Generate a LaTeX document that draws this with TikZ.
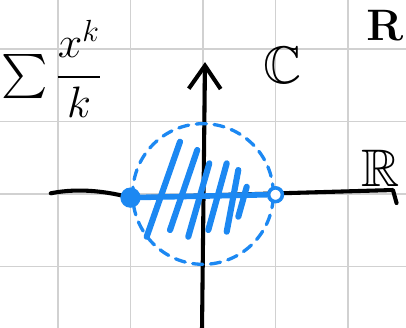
\documentclass[tikz,border=0pt]{standalone}
\usepackage{amsmath}
\usepackage{amssymb}
\usepackage{xcolor}
\usepackage{tikz}
\usetikzlibrary{arrows.meta, positioning, calc}
\definecolor{penblue}{RGB}{28,136,242}

\begin{document}
\begin{tikzpicture}[
    gridline/.style={draw=black!18, line width=0.7pt},
    axis/.style={draw=black, line width=1.6pt, line cap=round, line join=round},
    disc/.style={draw=penblue, line width=1.3pt, dash pattern=on 4pt off 3pt, line cap=round},
    hatch/.style={draw=penblue, line width=2.4pt, line cap=round},
    seg/.style={draw=penblue, line width=2.2pt},
    dotfill/.style={circle, fill=penblue, inner sep=0pt, minimum size=0.28cm},
    dotopen/.style={circle, draw=penblue, line width=1.4pt, fill=white, inner sep=0pt, minimum size=0.19cm},
    lbl/.style={inner sep=0pt, font=\Large},
]
    \useasboundingbox (-2.8,-1.848) rectangle (2.8,2.676);

    % grid paper
    \draw[gridline] (-2.8,-1.848) grid (2.8,2.676);

    % axes
    \coordinate (xl) at (-2.1,0.01);
    \coordinate (xm) at (-1,-0.05);
    \coordinate (xr) at (2.62,0.055);
    \coordinate (yb) at (-0.014,-1.9);
    \coordinate (yt) at (0.028,1.82);
    \draw[axis] (xl) .. controls (-1.7,0.09) and (-1.3,0.03) .. (xm) -- (xr) -- ++(0.05,-0.18);
    \draw[axis, -{Straight Barb[length=3.2mm, width=4.4mm]}] (yb) -- (yt);

    % unit disc
    \draw[disc] (0,0) circle (0.97);
    \foreach \xa/\ya/\xb/\yb in {-0.317/0.721/-0.777/-0.589, -0.079/0.607/-0.455/-0.497,
        0.087/0.423/-0.203/-0.589, 0.327/0.423/0.073/-0.497,
        0.487/0.331/0.327/-0.52, 0.603/0.1/0.487/-0.313}
        \draw[hatch] (\xa,\ya) -- (\xb,\yb);

    % interval [-1,1)
    \node[dotfill] (lo) at (-1,-0.05) {};
    \node[dotopen] (hi) at (1.0,-0.01) {};
    \draw[seg] (lo.center) -- (hi.west);

    % labels
    \node[lbl, font=\LARGE] (sumlbl) at (-2.08,1.72) {$\sum\dfrac{x^{k}}{k}$};
    \node[lbl, font=\huge] (cplx) at (1.1,1.77) {$\mathbb{C}$};
    \node[lbl, font=\huge] (real) at (2.45,0.35) {$\mathbb{R}$};
    \node[lbl, font=\LARGE, anchor=east] (cut) at (2.77,2.33) {$\mathbf{R}$};
\end{tikzpicture}
\end{document}
